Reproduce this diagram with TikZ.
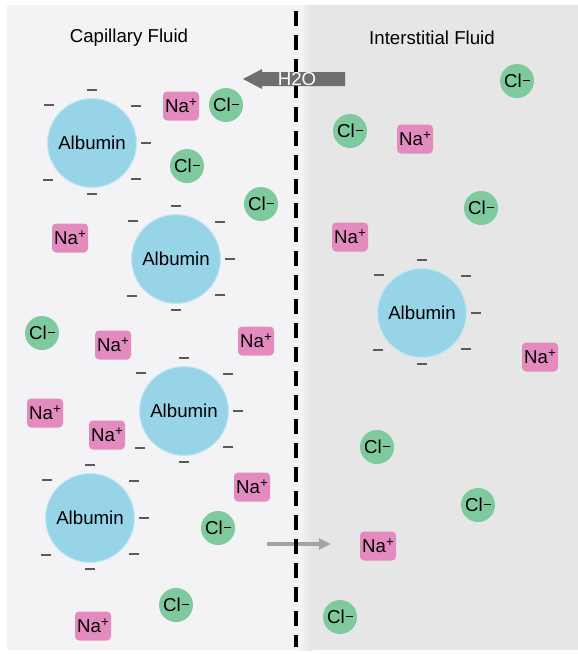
\documentclass[tikz,border=0pt]{standalone}
\usepackage{fontspec}
\setmainfont{Liberation Sans}
\usetikzlibrary{arrows.meta}
\definecolor{leftbg}{HTML}{F3F3F5}
\definecolor{rightbg}{HTML}{E6E6E6}
\definecolor{albcol}{HTML}{98D4E8}
\definecolor{nacol}{HTML}{E38BBF}
\definecolor{clcol}{HTML}{7EC99D}
\definecolor{h2ocol}{HTML}{6D6E70}
\definecolor{flowcol}{HTML}{A3A3A3}
\definecolor{minuscol}{HTML}{5A5A5A}
\newcommand\plusmark{\raisebox{0.3em}{\fontsize{10}{10}\selectfont +}}
\newcommand\minusmark{\kern0.05em\rule[0.38em]{0.38em}{0.055em}}
\tikzset{
  lbl/.style={font=\fontsize{14}{16}\selectfont, text=black, inner sep=0pt},
  albumin/.style={circle, fill=albcol, draw=albcol!55!white, line width=0.8pt,
    minimum size=66.75pt, inner sep=0pt, font=\fontsize{14}{16}\selectfont},
  naion/.style={rectangle, rounded corners=3pt, fill=nacol, minimum width=27pt,
    minimum height=21.75pt, inner sep=0pt, font=\fontsize{14}{16}\selectfont},
  clion/.style={circle, fill=clcol, minimum size=25.5pt, inner sep=0pt,
    font=\fontsize{14}{16}\selectfont},
  charge/.style={draw=minuscol, line width=1.2pt},
  membrane/.style={line width=2.3pt, dash pattern=on 11.25pt off 6.75pt},
}
\newcommand\charges[1]{%
  \foreach \dx/\dy in {0/-53, -43/-38, 44/-37, 54/0, -44/37, 44/36, 0/51}{%
    \draw[charge] ([shift={(\dx-5,\dy)}]#1.center) -- ([shift={(\dx+5,\dy)}]#1.center);
  }%
}
\begin{document}
\begin{tikzpicture}[x=0.75pt,y=-0.75pt]
\useasboundingbox (0,0) rectangle (578,654);
% backgrounds
\fill[leftbg] (7,5) rectangle (297,650);
\fill[rightbg] (297,5) rectangle (578,650);
\shade[left color=white!70!rightbg, right color=rightbg] (297,5) rectangle (312,650);
% titles
\node[lbl] (t1) at (129,38) {Capillary Fluid};
\node[lbl] (t2) at (432,38) {Interstitial Fluid};
% flow arrow (under the membrane)
\coordinate (fa) at (267,544);
\coordinate (fb) at (331,544);
\draw[flowcol, line width=3.4pt, -{Triangle[length=9pt,width=8pt]}] (fa) -- (fb);
% membrane
\coordinate (mtop) at (296,11);
\coordinate (mbot) at (296,647);
\draw[membrane] (mtop) -- (mbot);
% H2O arrow
\fill[h2ocol] (243,79) -- (262,69) -- (262,72) -- (345,72) -- (345,86) -- (262,86) -- (262,89) -- cycle;
\node[lbl, text=white] (h2o) at (297,79.5) {H2O};
% albumins
\node[albumin] (a1) at (92,143) {Albumin};
\node[albumin] (a2) at (176,259) {Albumin};
\node[albumin] (a3) at (184,411) {Albumin};
\node[albumin] (a4) at (90,518) {Albumin};
\node[albumin] (a5) at (422,313) {Albumin};
\charges{a1}\charges{a2}\charges{a3}\charges{a4}\charges{a5}
% sodium
\node[naion] (n1) at (181,106) {Na\plusmark};
\node[naion] (n2) at (70,238) {Na\plusmark};
\node[naion] (n3) at (113,345) {Na\plusmark};
\node[naion] (n4) at (256,341) {Na\plusmark};
\node[naion] (n5) at (45,413) {Na\plusmark};
\node[naion] (n6) at (107,435) {Na\plusmark};
\node[naion] (n7) at (252,487) {Na\plusmark};
\node[naion] (n8) at (93,626) {Na\plusmark};
\node[naion] (n9) at (415,139) {Na\plusmark};
\node[naion] (n10) at (350,237) {Na\plusmark};
\node[naion] (n11) at (540,357) {Na\plusmark};
\node[naion] (n12) at (378,546) {Na\plusmark};
% chloride
\node[clion] (c1) at (226,105) {Cl\minusmark};
\node[clion] (c2) at (187,166) {Cl\minusmark};
\node[clion] (c3) at (261,204) {Cl\minusmark};
\node[clion] (c4) at (42,333) {Cl\minusmark};
\node[clion] (c5) at (218,528) {Cl\minusmark};
\node[clion] (c6) at (176,605) {Cl\minusmark};
\node[clion] (c7) at (517,81) {Cl\minusmark};
\node[clion] (c8) at (350,131) {Cl\minusmark};
\node[clion] (c9) at (481,208) {Cl\minusmark};
\node[clion] (c10) at (377,447) {Cl\minusmark};
\node[clion] (c11) at (478,505) {Cl\minusmark};
\node[clion] (c12) at (340,617) {Cl\minusmark};
\end{tikzpicture}
\end{document}
